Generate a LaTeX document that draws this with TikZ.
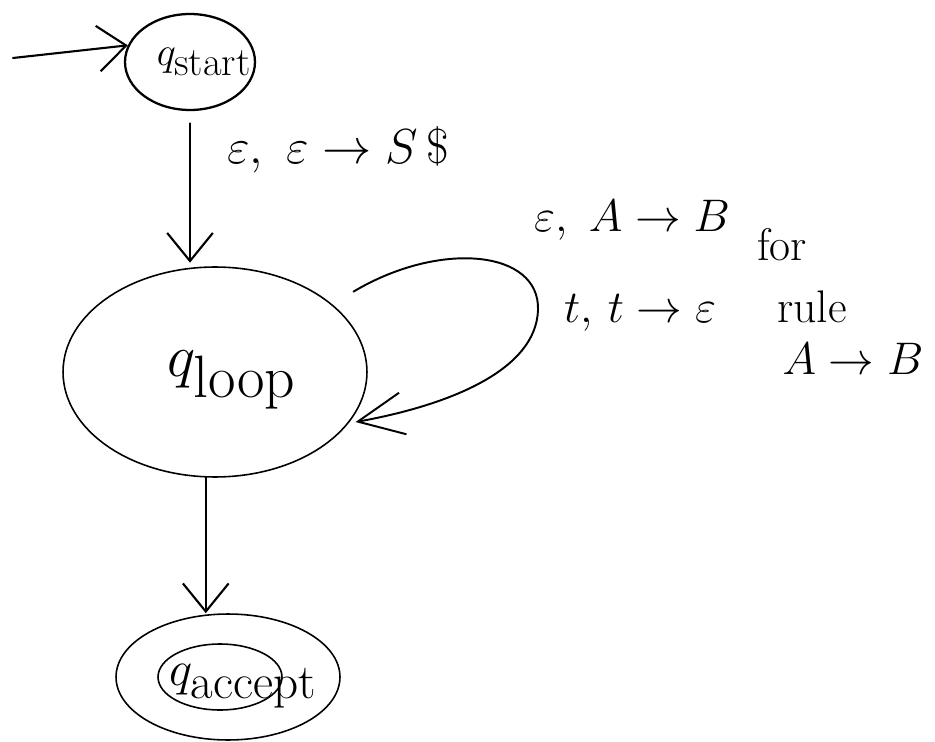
\RequirePackage{fix-cm}
\documentclass[tikz,border=0pt]{standalone}
\usetikzlibrary{arrows.meta,shapes.geometric}
\tikzset{
  state/.style={draw, ellipse, inner sep=0pt, line width=0.9pt},
  arr/.style={line width=1.2pt, line cap=round,
    -{Straight Barb[length=16pt,width=26pt,line width=1.2pt]}},
  loopar/.style={line width=1.1pt, line cap=round,
    -{Straight Barb[length=26pt,width=24pt,line width=1.1pt]}},
  lbl/.style={inner sep=0pt},
  big/.style={font=\fontsize{26}{30}\selectfont}
}
\begin{document}
\begin{tikzpicture}[x=0.02cm,y=-0.02cm]
\useasboundingbox (0,0) rectangle (935,742);

% states
\node[state, line width=1.3pt, minimum width=2.6cm, minimum height=1.92cm] (qstart) at (190,62) {};
\node[lbl, font=\fontsize{23}{26}\selectfont] (tstart) at (204,62) {$q_{\hbox{start}}$};

\node[state, minimum width=6.08cm, minimum height=4.2cm] (qloop) at (215,372) {};
\node[lbl, font=\fontsize{34}{38}\selectfont] (tloop) at (232,380) {$q_{\hbox{loop}}$};

\node[state, minimum width=4.48cm, minimum height=2.52cm] (qacc) at (228,677) {};
\node[state, minimum width=2.48cm, minimum height=1.32cm] (qaccin) at (220,677) {};
\node[lbl, font=\fontsize{28}{32}\selectfont] (tacc) at (243,686) {$q_{\hbox{accept}}$};

% connectors
\coordinate (s0) at (13,58);
\draw[arr] (s0) -- (qstart.165);
\draw[arr, shorten <=7pt, shorten >=2pt] (qstart.south) -- (qstart.south |- qloop.north);
\draw[loopar, shorten <=14pt, shorten >=4pt] (qloop.30)
  .. controls (440,240) and (540,250) .. (538,310)
  .. controls (536,370) and (450,405) .. (qloop.-21);
\draw[arr] (qloop.265) -- (qloop.265 |- qacc.north);

% labels
\node[lbl, font=\fontsize{28}{32}\selectfont] (l1) at (338,150) {$\varepsilon,\ \varepsilon \to S\,\$$};
\node[lbl, big] (l2) at (632,220) {$\varepsilon,\ A \to B$};
\node[lbl, big] (l3) at (640,313) {$t,\, t \to \varepsilon$};
\node[lbl, big] (l4) at (782,245) {for};
\node[lbl, big] (l5) at (812,307) {rule};
\node[lbl, big] (l6) at (853,359) {$A \to B$};
\end{tikzpicture}
\end{document}
